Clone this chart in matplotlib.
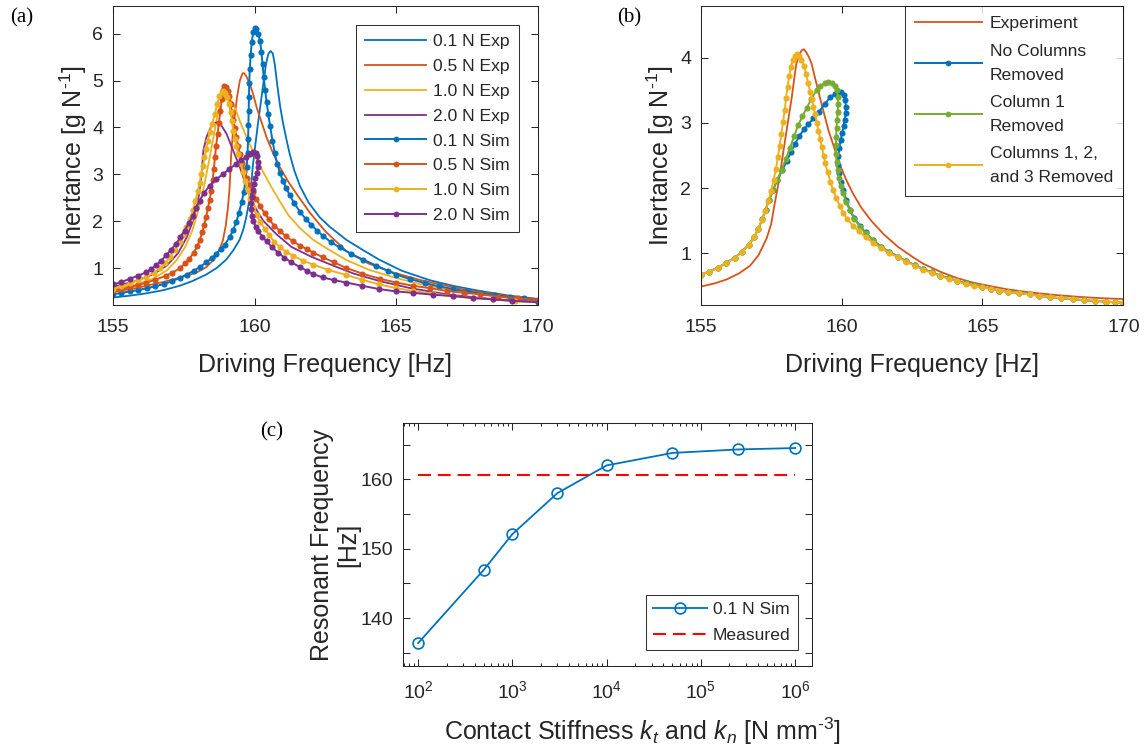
import matplotlib
matplotlib.use('Agg')
import matplotlib.pyplot as plt
from matplotlib.ticker import LogLocator, NullFormatter, FixedLocator

plt.rcParams['font.family'] = ['Liberation Sans', 'DejaVu Sans']
plt.rcParams['mathtext.fontset'] = 'custom'
plt.rcParams['mathtext.rm'] = 'Liberation Sans'
plt.rcParams['mathtext.it'] = 'Liberation Sans:italic'
plt.rcParams['mathtext.default'] = 'regular'

BLUE = '#0072BD'; ORANGE = '#D95319'; YELLOW = '#EDB120'; PURPLE = '#7E2F8E'; GREEN = '#77AC30'
TXT = '#262626'

# ---------------- Panel (a) data: (frequency [Hz], inertance [g/N]) ----------------
a_exp01 = [(155.0,0.37),(155.6,0.41),(156.18,0.46),(156.8,0.53),(157.35,0.62),(157.8,0.72),(158.29,0.86),
           (158.66,1.0),(159.0,1.18),(159.25,1.38),(159.47,1.6),(159.6,1.82),(159.7,2.07),(159.8,2.4),
           (159.88,2.78),(159.94,3.2),(160.02,3.6),(160.1,4.0),(160.2,4.45),(160.3,4.9),(160.4,5.35),
           (160.48,5.56),(160.56,5.63),(160.64,5.58),(160.71,5.35),(160.8,4.9),(160.9,4.45),(161.0,4.1),
           (161.12,3.75),(161.24,3.43),(161.4,3.08),(161.6,2.75),(161.9,2.4),(162.3,2.08),(162.65,1.88),
           (163.24,1.6),(163.83,1.38),(164.42,1.17),(165.2,0.94),(166.18,0.74),(167.0,0.62),(167.95,0.51),
           (169.0,0.41),(170.0,0.34)]
a_exp05 = [(155.0,0.49),(155.8,0.57),(156.76,0.70),(157.4,0.8),(157.94,0.9),(158.3,1.02),(158.53,1.16),
           (158.75,1.38),(158.88,1.59),(158.98,1.9),(159.06,2.3),(159.11,2.65),(159.14,3.0),(159.17,3.4),
           (159.22,3.8),(159.3,4.25),(159.38,4.65),(159.48,5.0),(159.57,5.15),(159.62,5.16),(159.7,5.1),
           (159.83,4.93),(159.95,4.7),(160.07,4.43),(160.25,4.1),(160.42,3.79),(160.65,3.45),(160.89,3.15),
           (161.2,2.83),(161.48,2.58),(161.95,2.18),(162.5,1.78),(163.24,1.36),(164.0,1.1),(164.8,0.92),
           (165.8,0.75),(167.0,0.59),(168.0,0.48),(169.0,0.4),(170.0,0.33)]
a_exp10 = [(155.0,0.55),(155.8,0.65),(156.4,0.77),(156.9,0.95),(157.25,1.17),(157.55,1.45),(157.8,1.8),
           (158.0,2.2),(158.2,2.7),(158.38,3.25),(158.55,3.8),(158.7,4.3),(158.85,4.62),(158.97,4.72),
           (159.07,4.65),(159.2,4.55),(159.35,4.35),(159.5,4.1),(159.72,3.79),(160.0,3.4),(160.3,3.05),
           (160.6,2.72),(160.89,2.42),(161.2,2.12),(161.6,1.85),(162.07,1.6),(162.65,1.38),(163.24,1.17),
           (164.0,0.97),(164.8,0.82),(165.8,0.66),(167.0,0.53),(168.0,0.44),(169.0,0.36),(170.0,0.3)]
a_exp20 = [(155.0,0.6),(155.8,0.72),(156.4,0.86),(156.9,1.05),(157.3,1.32),(157.6,1.65),(157.85,2.05),
           (158.02,2.5),(158.12,2.95),(158.19,3.51),(158.3,3.79),(158.48,4.04),(158.6,4.1),(158.71,4.11),
           (158.85,4.02),(159.01,3.86),(159.24,3.51),(159.48,3.15),(159.72,2.72),(159.95,2.36),(160.3,2.01),
           (160.77,1.72),(161.3,1.45),(162.0,1.24),(162.65,1.08),(163.5,0.88),(164.42,0.72),(165.5,0.57),
           (166.77,0.44),(168.0,0.36),(169.0,0.31),(170.0,0.28)]

a_sim01 = [(155.0,0.44),(155.3,0.47),(155.6,0.5),(155.9,0.53),(156.2,0.57),(156.5,0.61),(156.8,0.66),
           (157.1,0.72),(157.35,0.79),(157.6,0.86),(157.85,0.94),(158.06,1.02),(158.3,1.12),(158.5,1.22),
           (158.65,1.3),(158.8,1.4),(158.95,1.5),(159.12,1.66),(159.25,1.82),(159.35,1.98),(159.45,2.18),
           (159.54,2.4),(159.62,2.62),(159.68,2.88),(159.72,3.15),(159.75,3.45),(159.77,3.75),(159.78,4.05),
           (159.79,4.35),(159.8,4.65),(159.81,4.95),(159.83,5.25),(159.86,5.55),(159.9,5.82),(159.95,6.03),
           (160.0,6.13),(160.06,6.1),(160.12,6.0),(160.19,5.85),(160.24,5.6),(160.28,5.35),(160.32,5.08),
           (160.37,4.8),(160.42,4.55),(160.48,4.29),(160.55,4.02),(160.63,3.72),(160.71,3.45),(160.8,3.22),
           (160.9,3.02),(161.0,2.86),(161.12,2.7),(161.24,2.55),(161.4,2.38),(161.6,2.2),(161.8,2.05),
           (162.0,1.92),(162.2,1.8),(162.42,1.68),(162.7,1.55),(163.0,1.44),(163.4,1.3),(163.83,1.18),
           (164.3,1.05),(164.7,0.94),(165.0,0.86),(165.5,0.76),(166.0,0.68),(166.5,0.61),(167.0,0.55),
           (167.5,0.5),(168.0,0.46),(168.5,0.42),(169.0,0.38),(169.5,0.35),(170.0,0.32)]
a_sim05 = [(155.0,0.52),(155.3,0.55),(155.6,0.59),(155.9,0.64),(156.18,0.69),(156.5,0.75),(156.88,0.84),
           (157.1,0.9),(157.35,0.99),(157.55,1.1),(157.7,1.2),(157.85,1.33),(157.97,1.46),(158.06,1.59),
           (158.15,1.76),(158.22,1.92),(158.29,2.09),(158.35,2.27),(158.41,2.46),(158.47,2.65),(158.52,2.88),
           (158.56,3.12),(158.6,3.36),(158.64,3.6),(158.69,3.85),(158.74,4.1),(158.79,4.35),(158.84,4.6),
           (158.89,4.8),(158.93,4.88),(158.99,4.86),(159.05,4.78),(159.1,4.66),(159.15,4.5),(159.2,4.32),
           (159.25,4.15),(159.3,3.98),(159.36,3.8),(159.42,3.6),(159.48,3.43),(159.56,3.25),(159.64,3.08),
           (159.72,2.93),(159.82,2.78),(159.93,2.63),(160.05,2.48),(160.2,2.32),(160.35,2.17),(160.5,2.04),
           (160.7,1.9),(160.89,1.79),(161.1,1.68),(161.35,1.57),(161.6,1.48),(161.85,1.4),(162.07,1.33),
           (162.4,1.23),(162.8,1.12),(163.24,1.0),(163.8,0.88),(164.42,0.77),(165.0,0.69),(165.6,0.62),
           (166.18,0.57),(166.8,0.51),(167.4,0.47),(167.95,0.44),(168.6,0.39),(169.3,0.35),(170.0,0.32)]
a_sim10 = [(155.0,0.56),(155.3,0.61),(155.59,0.67),(155.9,0.74),(156.18,0.81),(156.45,0.9),(156.65,0.99),
           (156.85,1.1),(157.0,1.23),(157.18,1.38),(157.35,1.55),(157.48,1.71),(157.59,1.87),(157.71,2.05),
           (157.82,2.23),(157.91,2.44),(158.0,2.65),(158.06,2.82),(158.12,3.0),(158.18,3.18),(158.23,3.36),
           (158.29,3.54),(158.35,3.72),(158.42,3.9),(158.5,4.08),(158.6,4.29),(158.68,4.5),(158.76,4.66),
           (158.84,4.75),(158.9,4.78),(158.97,4.74),(159.04,4.64),(159.1,4.5),(159.15,4.33),(159.2,4.13),
           (159.25,3.93),(159.3,3.76),(159.36,3.6),(159.42,3.43),(159.5,3.24),(159.58,3.05),(159.66,2.86),
           (159.75,2.67),(159.85,2.48),(159.95,2.3),(160.07,2.13),(160.2,1.98),(160.35,1.84),(160.5,1.71),
           (160.7,1.56),(160.89,1.44),(161.1,1.35),(161.35,1.26),(161.7,1.16),(162.07,1.07),(162.6,0.96),
           (163.24,0.85),(163.8,0.75),(164.4,0.65),(165.0,0.57),(165.6,0.51),(166.3,0.45),(167.0,0.4),
           (167.7,0.36),(168.4,0.33),(169.2,0.29),(170.0,0.27)]
a_sim20 = [(155.0,0.65),(155.3,0.7),(155.59,0.77),(155.9,0.84),(156.18,0.91),(156.35,0.98),(156.53,1.06),
           (156.7,1.16),(156.88,1.27),(157.05,1.39),(157.23,1.52),(157.38,1.66),(157.53,1.8),(157.68,1.96),
           (157.82,2.12),(157.94,2.28),(158.06,2.44),(158.22,2.6),(158.41,2.76),(158.64,2.89),(158.88,3.0),
           (159.1,3.11),(159.35,3.22),(159.52,3.3),(159.7,3.37),(159.83,3.44),(159.94,3.47),(160.04,3.45),
           (160.1,3.38),(160.13,3.27),(160.12,3.15),(160.08,3.03),(160.03,2.91),(159.98,2.79),(159.93,2.66),
           (159.9,2.52),(159.88,2.39),(159.88,2.26),(159.91,2.12),(159.96,2.0),(160.04,1.88),(160.13,1.78),
           (160.27,1.67),(160.42,1.57),(160.62,1.44),(160.83,1.33),(161.05,1.22),(161.3,1.12),(161.6,1.02),
           (161.85,0.94),(162.07,0.87),(162.4,0.8),(162.8,0.74),(163.24,0.69),(163.8,0.62),(164.4,0.55),
           (165.0,0.5),(165.6,0.47),(166.3,0.43),(167.0,0.4),(167.7,0.36),(168.4,0.33),(169.1,0.3),(170.0,0.27)]

a_labels = ['0.1 N Exp', '0.5 N Exp', '1.0 N Exp', '2.0 N Exp',
            '0.1 N Sim', '0.5 N Sim', '1.0 N Sim', '2.0 N Sim']
a_xticks = [155, 160, 165, 170]
a_yticks = [1, 2, 3, 4, 5, 6]

# ---------------- Panel (b) data ----------------
b_exp = [(155.0,0.49),(155.5,0.54),(155.92,0.6),(156.35,0.69),(156.75,0.81),(157.05,0.97),(157.34,1.23),
         (157.5,1.45),(157.62,1.75),(157.75,2.05),(157.87,2.38),(157.96,2.64),(158.05,2.89),(158.14,3.14),
         (158.23,3.39),(158.31,3.65),(158.39,3.9),(158.5,4.05),(158.58,4.11),(158.66,4.13),(158.75,4.08),
         (158.85,4.0),(158.94,3.9),(159.08,3.65),(159.23,3.39),(159.38,3.14),(159.53,2.89),(159.73,2.63),
         (159.94,2.36),(160.15,2.14),(160.4,1.92),(160.7,1.7),(161.05,1.5),(161.5,1.29),(162.0,1.1),
         (162.5,0.95),(162.9,0.84),(163.49,0.72),(164.1,0.62),(164.67,0.55),(165.25,0.5),(165.85,0.45),
         (166.7,0.4),(167.62,0.36),(168.5,0.33),(169.3,0.31),(170.0,0.3)]
b_none = [(155.0,0.67),(155.3,0.72),(155.6,0.78),(155.9,0.85),(156.2,0.93),(156.45,1.02),(156.7,1.13),
          (156.9,1.25),(157.05,1.38),(157.18,1.52),(157.3,1.67),(157.43,1.82),(157.57,1.97),(157.72,2.13),
          (157.9,2.28),(158.05,2.41),(158.2,2.55),(158.35,2.68),(158.5,2.8),(158.66,2.9),(158.82,2.98),
          (159.0,3.07),(159.2,3.17),(159.4,3.29),(159.59,3.39),(159.75,3.44),(159.88,3.47),(159.99,3.47),
          (160.08,3.43),(160.13,3.35),(160.15,3.25),(160.14,3.15),(160.11,3.05),(160.07,2.95),(160.02,2.85),
          (159.97,2.74),(159.92,2.62),(159.89,2.49),(159.89,2.36),(159.92,2.23),(159.97,2.1),(160.06,1.97),
          (160.16,1.82),(160.29,1.67),(160.45,1.54),(160.65,1.42),(160.85,1.32),(161.12,1.2),(161.4,1.1),
          (161.7,1.02),(162.0,0.95),(162.3,0.88),(162.6,0.82),(162.9,0.76),(163.2,0.71),(163.5,0.66),
          (163.8,0.62),(164.1,0.58),(164.4,0.54),(164.7,0.51),(165.0,0.48),(165.3,0.46),(165.6,0.43),
          (165.9,0.41),(166.3,0.39),(166.7,0.37),(167.0,0.35),(167.4,0.33),(167.8,0.31),(168.2,0.3),
          (168.6,0.28),(169.0,0.27),(169.4,0.26),(169.7,0.25),(170.0,0.24)]
b_col1 = [(155.0,0.67),(155.3,0.72),(155.6,0.78),(155.9,0.85),(156.2,0.93),(156.45,1.02),(156.7,1.13),
          (156.9,1.25),(157.05,1.38),(157.18,1.52),(157.3,1.67),(157.43,1.82),(157.57,1.97),(157.72,2.13),
          (157.87,2.28),(158.02,2.45),(158.17,2.62),(158.32,2.8),(158.46,2.97),(158.61,3.1),(158.76,3.23),
          (158.93,3.37),(159.11,3.5),(159.25,3.57),(159.4,3.61),(159.53,3.62),(159.65,3.61),(159.75,3.57),
          (159.82,3.5),(159.87,3.4),(159.88,3.29),(159.86,3.17),(159.84,3.05),(159.82,2.92),(159.81,2.79),
          (159.8,2.66),(159.8,2.53),(159.82,2.4),(159.86,2.28),(159.91,2.16),(159.98,2.04),(160.06,1.92),
          (160.16,1.79),(160.29,1.66),(160.45,1.53),(160.65,1.41),(160.85,1.31),(161.12,1.2),(161.4,1.1),
          (161.7,1.02),(162.0,0.95),(162.3,0.88),(162.6,0.82),(162.9,0.76),(163.2,0.71),(163.5,0.66),
          (163.8,0.62),(164.1,0.58),(164.4,0.54),(164.7,0.51),(165.0,0.48),(165.3,0.46),(165.6,0.43),
          (165.9,0.41),(166.3,0.39),(166.7,0.37),(167.0,0.35),(167.4,0.33),(167.8,0.31),(168.2,0.3),
          (168.6,0.28),(169.0,0.27),(169.4,0.26),(169.7,0.25),(170.0,0.24)]
b_col123 = [(155.0,0.67),(155.3,0.72),(155.6,0.78),(155.9,0.85),(156.2,0.93),(156.45,1.02),(156.7,1.13),
            (156.9,1.25),(157.04,1.38),(157.17,1.51),(157.29,1.65),(157.4,1.8),(157.5,1.96),(157.59,2.13),
            (157.67,2.3),(157.74,2.47),(157.8,2.65),(157.86,2.83),(157.92,3.01),(157.98,3.2),(158.03,3.38),
            (158.08,3.55),(158.14,3.72),(158.2,3.86),(158.27,3.97),(158.35,4.03),(158.42,4.05),(158.48,4.03),
            (158.57,3.97),(158.66,3.88),(158.74,3.75),(158.81,3.61),(158.88,3.48),(158.94,3.37),(159.0,3.25),
            (159.06,3.13),(159.12,3.0),(159.18,2.88),(159.24,2.76),(159.3,2.63),(159.36,2.5),(159.42,2.38),
            (159.5,2.25),(159.6,2.1),(159.7,1.97),(159.81,1.85),(159.93,1.73),(160.06,1.62),(160.2,1.53),
            (160.41,1.42),(160.6,1.34),(160.85,1.25),(161.12,1.16),(161.4,1.08),(161.7,1.0),(162.0,0.94),
            (162.3,0.87),(162.6,0.81),(162.9,0.75),(163.2,0.7),(163.5,0.65),(163.8,0.61),(164.1,0.57),
            (164.4,0.53),(164.7,0.5),(165.0,0.48),(165.3,0.45),(165.6,0.43),(165.9,0.41),(166.3,0.39),
            (166.7,0.37),(167.0,0.35),(167.4,0.33),(167.8,0.31),(168.2,0.3),(168.6,0.28),(169.0,0.27),
            (169.4,0.26),(169.7,0.25),(170.0,0.24)]
b_labels = ['Experiment', 'No Columns\nRemoved', 'Column 1\nRemoved', 'Columns 1, 2,\nand 3 Removed']
b_yticks = [1, 2, 3, 4]

# ---------------- Panel (c) data ----------------
c_stiffness = [1e2, 5e2, 1e3, 3e3, 1e4, 5e4, 2.5e5, 1e6]
c_resonance = [136.4, 147.0, 152.1, 158.0, 162.0, 163.8, 164.3, 164.5]
c_measured_x = [1e2, 1e6]
c_measured_y = [160.6, 160.6]
c_labels = ['0.1 N Sim', 'Measured']


def xs(pts):
    return [p[0] for p in pts]


def ys(pts):
    return [p[1] for p in pts]


def style(ax):
    ax.tick_params(which='both', direction='in', top=True, right=True, width=0.75,
                   colors=TXT, labelsize=14)
    ax.tick_params(which='major', length=5)
    ax.tick_params(axis='x', pad=10)
    ax.tick_params(axis='y', pad=7)
    for s in ax.spines.values():
        s.set_linewidth(0.75)
        s.set_color(TXT)


def style_legend(leg, linespacing=None):
    leg.get_frame().set_linewidth(0.75)
    for t in leg.get_texts():
        t.set_color(TXT)
        if linespacing is not None:
            t.set_linespacing(linespacing)


fig = plt.figure(figsize=(11.48, 7.56), dpi=100)

LBL = 18
LEG = 12.6
EXP_LW = 1.3
SIM_LW = 1.4
MS = 4.4
YLAB = 'Inertance [g N$^{\\text{-1}}$]'

# ---- (a)
axa = fig.add_axes([0.0984, 0.5959, 0.3702, 0.3968])
colors = [BLUE, ORANGE, YELLOW, PURPLE]
for pts, c, lab in zip([a_exp01, a_exp05, a_exp10, a_exp20], colors, a_labels[:4]):
    axa.plot(xs(pts), ys(pts), '-', color=c, lw=EXP_LW, label=lab)
for pts, c, lab in zip([a_sim01, a_sim05, a_sim10, a_sim20], colors, a_labels[4:]):
    axa.plot(xs(pts), ys(pts), '-', color=c, lw=SIM_LW, marker='o', ms=MS, mew=0, label=lab)
axa.set_xlim(155, 170)
axa.set_ylim(0.2, 6.6)
axa.set_xticks(a_xticks)
axa.set_yticks(a_yticks)
style(axa)
axa.set_xlabel('Driving Frequency [Hz]', fontsize=LBL, color=TXT)
axa.set_ylabel(YLAB, fontsize=LBL, color=TXT)
axa.xaxis.set_label_coords(0.5, -0.158)
axa.yaxis.set_label_coords(-0.057, 0.5)
lega = axa.legend(loc='upper right', bbox_to_anchor=(0.955, 0.935), borderaxespad=0,
                  fontsize=LEG, frameon=True, fancybox=False, edgecolor='black',
                  handlelength=3.5, handletextpad=0.4, labelspacing=0.55, borderpad=0.5,
                  numpoints=1, markerscale=0.95)
style_legend(lega)

# ---- (b)
axb = fig.add_axes([0.6104, 0.5959, 0.3681, 0.3968])
axb.plot(xs(b_exp), ys(b_exp), '-', color=ORANGE, lw=EXP_LW, label=b_labels[0])
for pts, c, lab in zip([b_none, b_col1, b_col123], [BLUE, GREEN, YELLOW], b_labels[1:]):
    axb.plot(xs(pts), ys(pts), '-', color=c, lw=SIM_LW, marker='o', ms=MS, mew=0, label=lab)
axb.set_xlim(155, 170)
axb.set_ylim(0.2, 4.8)
axb.set_xticks(a_xticks)
axb.set_yticks(b_yticks)
style(axb)
axb.set_xlabel('Driving Frequency [Hz]', fontsize=LBL, color=TXT)
axb.set_ylabel(YLAB, fontsize=LBL, color=TXT)
axb.xaxis.set_label_coords(0.5, -0.158)
axb.yaxis.set_label_coords(-0.058, 0.5)
legb = axb.legend(loc='upper right', bbox_to_anchor=(1.0, 1.0), borderaxespad=0,
                  fontsize=LEG, frameon=True, fancybox=False, edgecolor='black',
                  handlelength=3.8, handletextpad=0.45, labelspacing=0.7, borderpad=0.6,
                  numpoints=1, markerscale=0.95)
style_legend(legb, linespacing=1.75)

# ---- (c)
axc = fig.add_axes([0.3510, 0.1190, 0.3563, 0.3214])
axc.plot(c_stiffness, c_resonance, '-', color=BLUE, lw=1.3, marker='o', ms=7.8,
         mfc='none', mec=BLUE, mew=1.2, label=c_labels[0])
axc.plot(c_measured_x, c_measured_y, color='#FF0000', lw=1.5, linestyle=(0, (6.2, 3.3)),
         label=c_labels[1])
axc.set_xscale('log')
axc.set_xlim(69, 1.51e6)
axc.set_ylim(133.1, 168.1)
axc.xaxis.set_major_locator(LogLocator(base=10, numticks=10))
axc.xaxis.set_minor_locator(LogLocator(base=10, subs=[2, 3, 4, 5, 6, 7, 8, 9], numticks=20))
axc.xaxis.set_minor_formatter(NullFormatter())
axc.yaxis.set_major_locator(FixedLocator([140, 150, 160]))
axc.yaxis.set_minor_locator(FixedLocator([135, 145, 155, 165]))
style(axc)
axc.tick_params(axis='x', which='minor', length=2.5)
axc.tick_params(axis='y', which='minor', length=5)
axc.set_xlabel('Contact Stiffness $\\mathit{k}_\\mathit{t}$ and $\\mathit{k}_\\mathit{n}$ [N mm$^{\\text{-3}}$]',
               fontsize=LBL, color=TXT)
axc.set_ylabel('Resonant Frequency\n[Hz]', fontsize=LBL, color=TXT, linespacing=1.1)
axc.xaxis.set_label_coords(0.585, -0.205)
axc.yaxis.set_label_coords(-0.105, 0.5)
legc = axc.legend(loc='lower right', bbox_to_anchor=(0.965, 0.066), borderaxespad=0,
                  fontsize=LEG, frameon=True, fancybox=False, edgecolor='black',
                  handlelength=3.1, handletextpad=0.35, labelspacing=0.62, borderpad=0.4,
                  numpoints=1)
style_legend(legc)

# panel letters
fig.text(0.0087, 0.989, '(a)', fontsize=15, family='Liberation Serif', va='top', ha='left', color='black')
fig.text(0.5375, 0.989, '(b)', fontsize=15, family='Liberation Serif', va='top', ha='left', color='black')
fig.text(0.2265, 0.441, '(c)', fontsize=15, family='Liberation Serif', va='top', ha='left', color='black')

fig.savefig('out.png', dpi=100)
